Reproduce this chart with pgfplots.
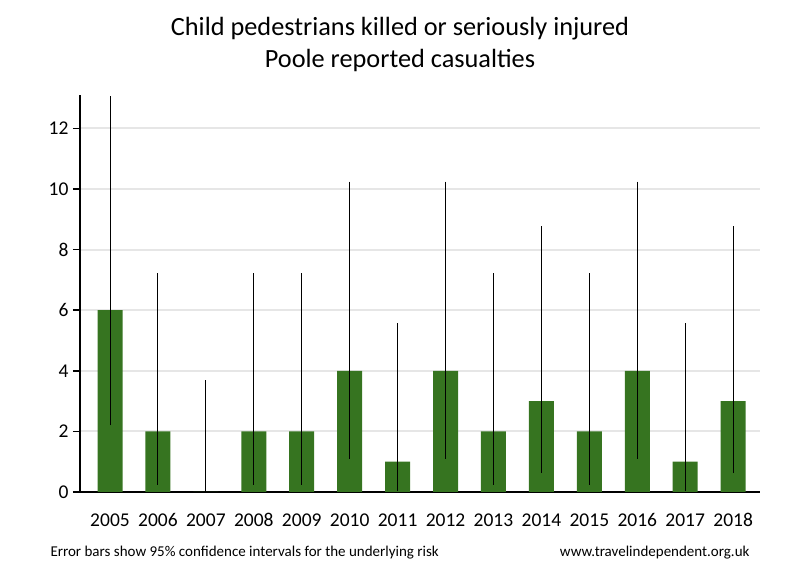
\documentclass[border=0pt]{standalone}
\usepackage{fontspec}
\setmainfont{Carlito}
\usepackage{pgfplots}
\pgfplotsset{compat=1.18}
\definecolor{barg}{HTML}{367420}
\definecolor{gridg}{HTML}{E6E6E6}
\begin{document}
\begin{tikzpicture}
\path[use as bounding box] (0,0) rectangle (800pt,580pt);
\node[font=\fontsize{26.3}{32}\selectfont, align=center] at (400pt,536pt)
  {Child pedestrians killed or seriously injured\\Poole reported casualties};
\begin{axis}[
  at={(80pt,88pt)}, anchor=south west,
  scale only axis, width=680pt, height=397pt,
  xmin=-0.626, xmax=13.56,
  ymin=0, ymax=13.1,
  axis x line*=bottom, axis y line*=left,
  axis line style={line width=2pt},
  xtick={0,...,13},
  xticklabels={2005,2006,2007,2008,2009,2010,2011,2012,2013,2014,2015,2016,2017,2018},
  x tick label style={yshift=-11pt},
  major x tick style={draw=none},
  ytick={0,2,...,12},
  y tick label style={xshift=-1pt},
  major tick length=7pt,
  y tick style={line width=1.5pt, black},
  tick align=outside,
  ymajorgrids, grid style={gridg, line width=2pt},
  tick label style={font=\fontsize{19.5}{21}\selectfont},
  /pgf/number format/assume math mode=true,
  ybar, bar width=25pt,
]
\addplot[fill=barg, draw=none,
  error bars/.cd, y dir=both, y explicit,
  error mark=none, error bar style={black, line width=1pt}]
coordinates {
  (0,6) += (0,7.060) -= (0,3.798)
  (1,2) += (0,5.225) -= (0,1.758)
  (2,0) += (0,3.689) -= (0,0)
  (3,2) += (0,5.225) -= (0,1.758)
  (4,2) += (0,5.225) -= (0,1.758)
  (5,4) += (0,6.242) -= (0,2.910)
  (6,1) += (0,4.572) -= (0,0.975)
  (7,4) += (0,6.242) -= (0,2.910)
  (8,2) += (0,5.225) -= (0,1.758)
  (9,3) += (0,5.767) -= (0,2.381)
  (10,2) += (0,5.225) -= (0,1.758)
  (11,4) += (0,6.242) -= (0,2.910)
  (12,1) += (0,4.572) -= (0,0.975)
  (13,3) += (0,5.767) -= (0,2.381)
};
\end{axis}
\node[anchor=west, font=\fontsize{15}{16}\selectfont] at (47pt,27pt)
  {Error bars show 95\% confidence intervals for the underlying risk};
\node[anchor=east, font=\fontsize{15}{16}\selectfont] at (753pt,27pt)
  {www.travelindependent.org.uk};
\end{tikzpicture}
\end{document}
